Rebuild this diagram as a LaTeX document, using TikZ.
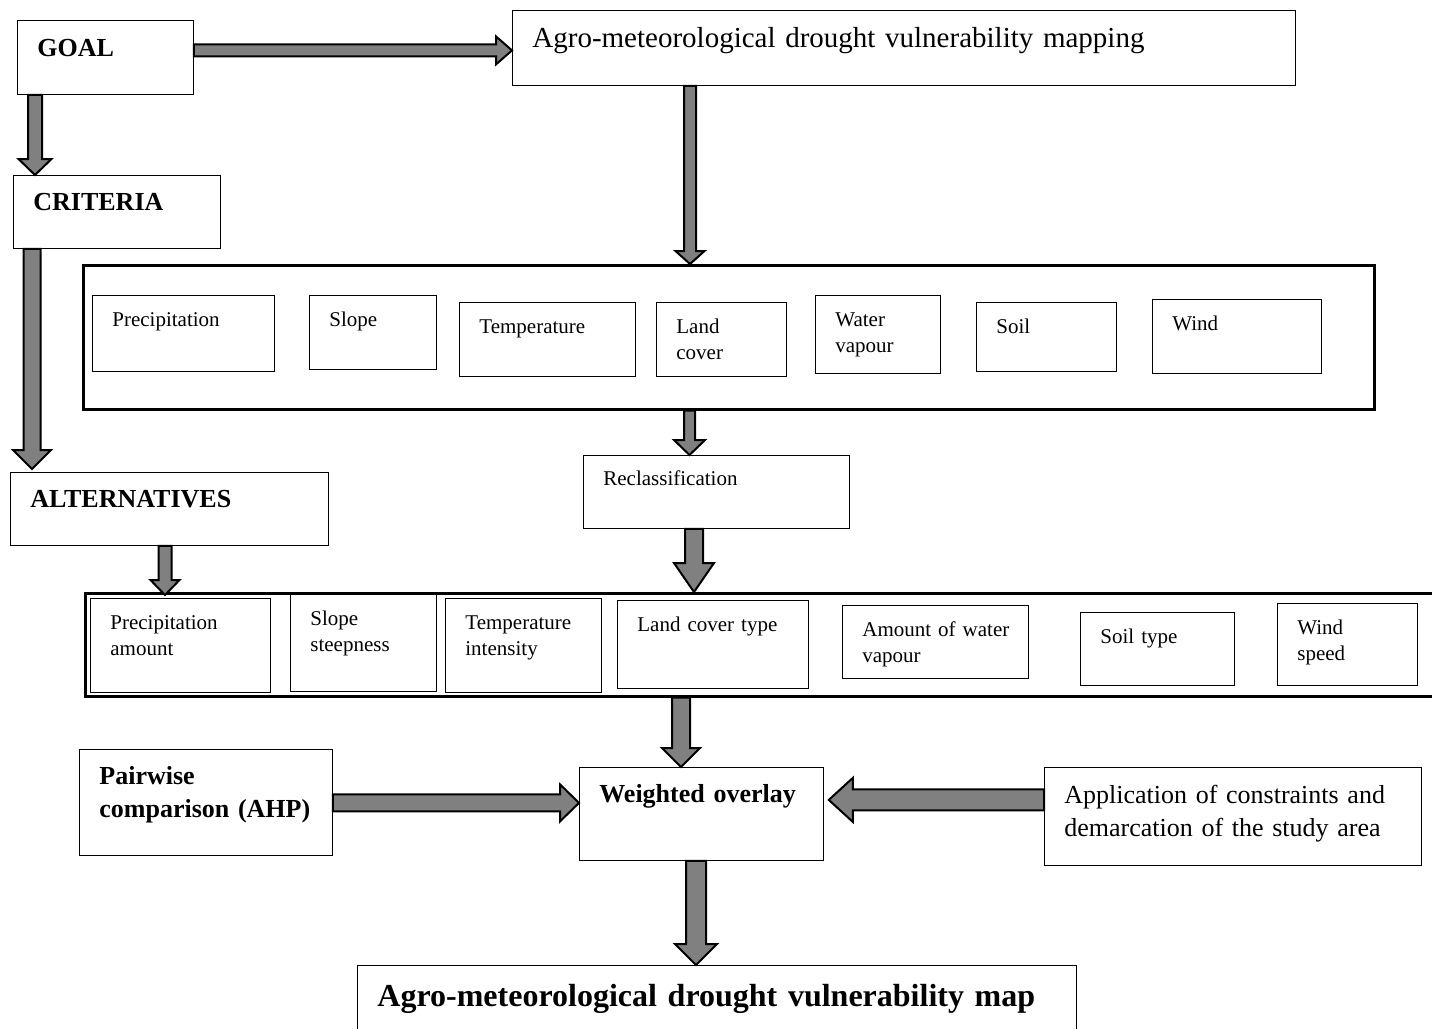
\documentclass[tikz,border=0pt]{standalone}
\usepackage{fontspec}
\setmainfont{Liberation Serif}
\usetikzlibrary{calc}

\definecolor{arrowgrey}{HTML}{808080}

\tikzset{
  box/.style={draw=black, line width=0.8pt, anchor=north west, inner xsep=20pt, inner ysep=0pt,
    align=left, font=\fontsize{21}{26}\selectfont, text height=31pt},
  bigtext/.style={box, font=\fontsize{26}{33}\selectfont, text height=36pt},
  bigbox/.style={box, font=\bfseries\fontsize{26}{33}\selectfont, text height=35pt},
  boxdim/.style 2 args={text width=#1, text depth=#2},
  groupframe/.style={draw=black, line width=2.6pt, anchor=north west, inner sep=0pt},
  bshaft/.store in=\bshaft, bhead/.store in=\bhead, blen/.store in=\blen,
  bshaft=7pt, bhead=15pt, blen=16pt,
  blockarrow/.style={draw=black, line width=2pt, fill=arrowgrey, line join=miter,
    to path={($(\tikztostart)!\bshaft!90:(\tikztotarget)$)
      -- ($(\tikztotarget)!\blen!(\tikztostart)!\bshaft!90:(\tikztotarget)$)
      -- ($(\tikztotarget)!\blen!(\tikztostart)!\bhead!90:(\tikztotarget)$)
      -- (\tikztotarget)
      -- ($(\tikztotarget)!\blen!(\tikztostart)!\bhead!-90:(\tikztotarget)$)
      -- ($(\tikztotarget)!\blen!(\tikztostart)!\bshaft!-90:(\tikztotarget)$)
      -- ($(\tikztostart)!\bshaft!-90:(\tikztotarget)$) -- cycle}}
}

\begin{document}
\begin{tikzpicture}[x=1pt,y=-1pt]
   \useasboundingbox (0,0) rectangle (1432,1028);
   \clip (0,0) rectangle (1432,1028);
   \fill[white] (0,0) rectangle (1432,1028);

   % hierarchy
   \node[bigbox, boxdim={136pt}{38pt}, text height=36pt] (goal) at (17,20) {GOAL};
   \node[bigtext, font=\fontsize{29}{35}\selectfont, boxdim={743pt}{38pt}, text height=37pt] (map) at (512,10) {Agro-meteorological drought vulnerability mapping};
   \node[bigbox, boxdim={167pt}{38pt}] (crit) at (13,175) {CRITERIA};
   \node[bigbox, boxdim={278pt}{38pt}] (alt) at (10,472) {ALTERNATIVES};

   % criteria
   \node[groupframe, minimum width=1291pt, minimum height=144pt] (critframe) at (82,264) {};
   \node[box, boxdim={142pt}{45pt}] (cprec) at (92,295) {Precipitation};
   \node[box, boxdim={87pt}{43pt}] (cslope) at (309,295) {Slope};
   \node[box, boxdim={136pt}{43pt}] (ctemp) at (459,302) {Temperature};
   \node[box, boxdim={90pt}{43pt}] (cland) at (656,302) {Land\\cover};
   \node[box, boxdim={85pt}{47pt}] (cwater) at (815,295) {Water\\vapour};
   \node[box, boxdim={100pt}{38pt}] (csoil) at (976,302) {Soil};
   \node[box, boxdim={129pt}{43pt}] (cwind) at (1152,299) {Wind};

   \node[box, boxdim={226pt}{43pt}, text height=30pt] (reclass) at (583,455) {Reclassification};

   % alternatives
   \node[groupframe, minimum width=1400pt, minimum height=103pt] (altframe) at (84,592) {};
   \node[box, boxdim={140pt}{63pt}] (aprec) at (90,598) {Precipitation\\amount};
   \node[box, boxdim={106pt}{66pt}] (aslope) at (290,594) {Slope\\steepness};
   \node[box, boxdim={116pt}{63pt}] (atemp) at (445,598) {Temperature\\intensity};
   \node[box, boxdim={151pt}{57pt}] (aland) at (617,600) {Land cover type};
   \node[box, boxdim={146pt}{42pt}] (awater) at (842,605) {\mbox{Amount of water}\\vapour};
   \node[box, boxdim={114pt}{42pt}] (asoil) at (1080,612) {Soil type};
   \node[box, boxdim={100pt}{51pt}] (awind) at (1277,603) {Wind\\speed};

   % overlay
   \node[bigbox, boxdim={213pt}{71pt}] (pair) at (79,749) {Pairwise\\\mbox{comparison (AHP)}};
   \node[bigbox, boxdim={204pt}{58pt}] (overlay) at (579,767) {\mbox{Weighted overlay}};
   \node[bigtext, boxdim={337pt}{62pt}] (constr) at (1044,767) {Application of constraints and\\demarcation of the study area};
   \node[bigbox, font=\bfseries\fontsize{32}{38}\selectfont, boxdim={679pt}{40pt}, text height=41pt] (final) at (357,965) {Agro-meteorological drought vulnerability map};

   % arrows
   \draw[blockarrow, bshaft=6pt, bhead=14pt, blen=16pt] ([yshift=7pt]goal.east) to ([yshift=-2.5pt]map.west);
   \draw[blockarrow, bshaft=7pt, bhead=16.5pt, blen=16pt] ([xshift=18pt]goal.south west) to ([xshift=22pt]crit.north west);
   \draw[blockarrow, bshaft=8.5pt, bhead=19pt, blen=19pt] ([xshift=19pt]crit.south west) to ([xshift=22pt,yshift=3pt]alt.north west);
   \draw[blockarrow, bshaft=6pt, bhead=14.5pt, blen=13pt] ([xshift=178pt]map.south west) to ([xshift=608pt]critframe.north west);
   \draw[blockarrow, bshaft=5.5pt, bhead=15.5pt, blen=15pt] ([xshift=607.5pt]critframe.south west) to ([xshift=106.5pt]reclass.north west);
   \draw[blockarrow, bshaft=9pt, bhead=20pt, blen=29pt] ([xshift=111pt]reclass.south west) to ([xshift=610pt]altframe.north west);
   \draw[blockarrow, bshaft=6.5pt, bhead=14.5pt, blen=15pt] ([xshift=155pt]alt.south west) to ([xshift=75pt,yshift=3pt]aprec.north west);
   \draw[blockarrow, bshaft=9pt, bhead=19pt, blen=19pt] ([xshift=597pt]altframe.south west) to ([xshift=102pt]overlay.north west);
   \draw[blockarrow, bshaft=8.5pt, bhead=18.5pt, blen=19pt] ([yshift=-0.5pt]pair.east) to ([yshift=11pt]overlay.west);
   \draw[blockarrow, bshaft=10.5pt, bhead=22pt, blen=24pt] ([yshift=16.5pt]constr.west) to ([xshift=5pt,yshift=14pt]overlay.east);
   \draw[blockarrow, bshaft=10pt, bhead=21pt, blen=21pt] ([xshift=117pt]overlay.south west) to ([xshift=339pt]final.north west);
\end{tikzpicture}
\end{document}
